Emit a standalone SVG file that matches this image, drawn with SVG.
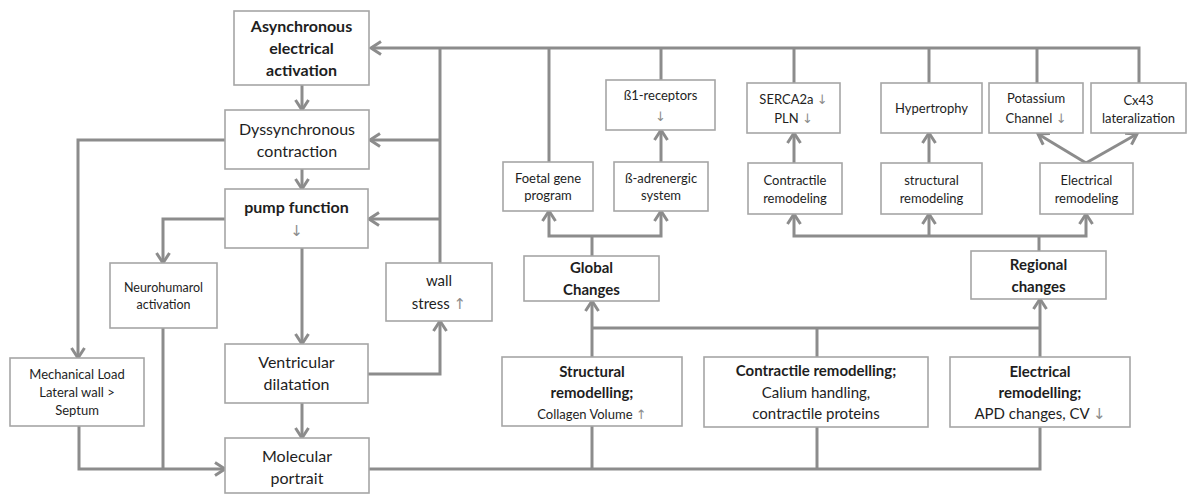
<svg xmlns="http://www.w3.org/2000/svg" width="1190" height="496" viewBox="0 0 1190 496">
<style>
.box{fill:#fff;stroke:#a6a6a6;stroke-width:1.6}
.ln{fill:none;stroke:#8c8c8c;stroke-width:3}
.t{font-family:Lato,"Open Sans","Liberation Sans",sans-serif;fill:#1e1e1e;text-anchor:middle}
.b{font-weight:bold}
.s16{font-size:16px}
.s15{font-size:15px}
.s13{font-size:13px}
.s12{font-size:12.5px}
.g{fill:#8c8c8c;font-family:"DejaVu Sans",sans-serif;font-weight:normal}
</style>
<defs>
<marker id="ah" markerUnits="userSpaceOnUse" markerWidth="16" markerHeight="16" viewBox="0 0 16 16" refX="13" refY="8" orient="auto">
<path d="M3,1.5 L13,8 L3,14.5" fill="none" stroke="#8c8c8c" stroke-width="3"/>
</marker>
</defs>
<g id="connectors">
<path class="ln" d="M1139,83 V48 H371" marker-end="url(#ah)"/>
<path class="ln" d="M549,162 V48"/>
<path class="ln" d="M661,80 V48"/>
<path class="ln" d="M794,83 V48"/>
<path class="ln" d="M929,83 V48"/>
<path class="ln" d="M1037,83 V48"/>
<path class="ln" d="M440,263 V48"/>
<path class="ln" d="M440,140 H370" marker-end="url(#ah)"/>
<path class="ln" d="M440,219 H369" marker-end="url(#ah)"/>
<path class="ln" d="M302,85 V110" marker-end="url(#ah)"/>
<path class="ln" d="M302,169 V189" marker-end="url(#ah)"/>
<path class="ln" d="M302,248 V344" marker-end="url(#ah)"/>
<path class="ln" d="M302,403 V438" marker-end="url(#ah)"/>
<path class="ln" d="M368,374 H440 V321" marker-end="url(#ah)"/>
<path class="ln" d="M225,140 H78 V358" marker-end="url(#ah)"/>
<path class="ln" d="M225,219 H163 V263" marker-end="url(#ah)"/>
<path class="ln" d="M79,426 V469 H225" marker-end="url(#ah)"/>
<path class="ln" d="M163,328 V469"/>
<path class="ln" d="M369,469 H1040 V427"/>
<path class="ln" d="M592,426 V469"/>
<path class="ln" d="M817,427 V469"/>
<path class="ln" d="M592,357 V301" marker-end="url(#ah)"/>
<path class="ln" d="M1040,357 V299" marker-end="url(#ah)"/>
<path class="ln" d="M592,328 H1040"/>
<path class="ln" d="M817,357 V328"/>
<path class="ln" d="M592,256 V236"/>
<path class="ln" d="M592,236 H549 V211" marker-end="url(#ah)"/>
<path class="ln" d="M592,236 H661 V211" marker-end="url(#ah)"/>
<path class="ln" d="M661,162 V130" marker-end="url(#ah)"/>
<path class="ln" d="M1039,251 V236"/>
<path class="ln" d="M1039,236 H794 V214" marker-end="url(#ah)"/>
<path class="ln" d="M1039,236 H1086 V214" marker-end="url(#ah)"/>
<path class="ln" d="M929,236 V214" marker-end="url(#ah)"/>
<path class="ln" d="M794,163 V133" marker-end="url(#ah)"/>
<path class="ln" d="M929,163 V133" marker-end="url(#ah)"/>
<path class="ln" d="M1086,163 L1038,134" marker-end="url(#ah)"/>
<path class="ln" d="M1086,163 L1137,134" marker-end="url(#ah)"/>
</g>
<g id="async"><rect class="box" x="234" y="11" width="135" height="74"/>
<text class="t b s16" x="301.5" y="32">Asynchronous</text><text class="t b s16" x="301.5" y="54">electrical</text><text class="t b s16" x="301.5" y="76">activation</text></g>
<g id="dyssync"><rect class="box" x="225" y="110" width="144" height="59"/>
<text class="t s16" x="297" y="135">Dyssynchronous</text><text class="t s16" x="297" y="157">contraction</text></g>
<g id="pump"><rect class="box" x="225" y="189" width="143" height="59"/>
<text class="t b s16" x="296.5" y="213">pump function</text><text class="t s15 g" x="296.5" y="236">↓</text></g>
<g id="neuro"><rect class="box" x="110" y="263" width="107" height="65"/>
<text class="t s12" x="163.5" y="292">Neurohumarol</text><text class="t s12" x="163.5" y="309">activation</text></g>
<g id="mech"><rect class="box" x="10" y="358" width="134" height="68"/>
<text class="t s13" x="77" y="379">Mechanical Load</text><text class="t s13" x="77" y="397">Lateral wall &gt;</text><text class="t s13" x="77" y="415">Septum</text></g>
<g id="ventr"><rect class="box" x="225" y="344" width="143" height="59"/>
<text class="t s16" x="296.5" y="368">Ventricular</text><text class="t s16" x="296.5" y="390">dilatation</text></g>
<g id="molec"><rect class="box" x="225" y="438" width="144" height="55"/>
<text class="t s16" x="297" y="462">Molecular</text><text class="t s16" x="297" y="484">portrait</text></g>
<g id="wall"><rect class="box" x="386" y="263" width="106" height="58"/>
<text class="t s15" x="439" y="286">wall</text><text class="t s15" x="439" y="309">stress <tspan class="g">↑</tspan></text></g>
<g id="foetal"><rect class="box" x="503" y="162" width="90" height="49"/>
<text class="t s13" x="548" y="183">Foetal gene</text><text class="t s13" x="548" y="200">program</text></g>
<g id="badr"><rect class="box" x="614" y="162" width="94" height="49"/>
<text class="t s13" x="661" y="183">ß-adrenergic</text><text class="t s13" x="661" y="200">system</text></g>
<g id="b1"><rect class="box" x="606" y="80" width="109" height="50"/>
<text class="t s13" x="660.5" y="100">ß1-receptors</text><text class="t s13 g" x="660.5" y="121">↓</text></g>
<g id="serca"><rect class="box" x="747" y="83" width="93" height="50"/>
<text class="t s13" x="793.5" y="104">SERCA2a <tspan class="g">↓</tspan></text><text class="t s13" x="793.5" y="123">PLN <tspan class="g">↓</tspan></text></g>
<g id="contr_r"><rect class="box" x="748" y="163" width="94" height="51"/>
<text class="t s13" x="795" y="185">Contractile</text><text class="t s13" x="795" y="203">remodeling</text></g>
<g id="hyper"><rect class="box" x="881" y="83" width="101" height="50"/>
<text class="t s13" x="931.5" y="113">Hypertrophy</text></g>
<g id="struct_r"><rect class="box" x="881" y="163" width="101" height="51"/>
<text class="t s13" x="931.5" y="185">structural</text><text class="t s13" x="931.5" y="203">remodeling</text></g>
<g id="potassium"><rect class="box" x="989" y="83" width="94" height="50"/>
<text class="t s13" x="1036" y="103">Potassium</text><text class="t s13" x="1036" y="123">Channel <tspan class="g">↓</tspan></text></g>
<g id="cx43"><rect class="box" x="1091" y="83" width="95" height="50"/>
<text class="t s13" x="1138.5" y="105">Cx43</text><text class="t s13" x="1138.5" y="123">lateralization</text></g>
<g id="elec_r"><rect class="box" x="1040" y="163" width="93" height="51"/>
<text class="t s13" x="1086.5" y="185">Electrical</text><text class="t s13" x="1086.5" y="203">remodeling</text></g>
<g id="global"><rect class="box" x="524" y="256" width="135" height="45"/>
<text class="t b s15" x="591.5" y="273">Global</text><text class="t b s15" x="591.5" y="295">Changes</text></g>
<g id="regional"><rect class="box" x="971" y="251" width="135" height="48"/>
<text class="t b s15" x="1038.5" y="270">Regional</text><text class="t b s15" x="1038.5" y="292">changes</text></g>
<g id="structural"><rect class="box" x="502" y="357" width="180" height="69"/>
<text class="t b s15" x="592" y="377">Structural</text><text class="t b s15" x="592" y="398">remodelling;</text><text class="t s13" x="592" y="419">Collagen Volume <tspan class="g">↑</tspan></text></g>
<g id="contractile"><rect class="box" x="704" y="357" width="224" height="70"/>
<text class="t b s15" x="816" y="376">Contractile remodelling;</text><text class="t s15" x="816" y="398">Calium handling,</text><text class="t s15" x="816" y="419">contractile proteins</text></g>
<g id="electrical"><rect class="box" x="950" y="357" width="180" height="70"/>
<text class="t b s15" x="1040" y="377">Electrical</text><text class="t b s15" x="1040" y="398">remodelling;</text><text class="t s15" x="1040" y="419">APD changes, CV <tspan class="g">↓</tspan></text></g>
</svg>
